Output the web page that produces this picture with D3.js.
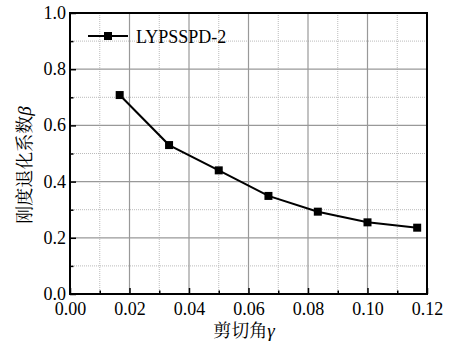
<!DOCTYPE html>
<html>
<head>
<meta charset="utf-8">
<script src="https://cdn.jsdelivr.net/npm/d3@7"></script>
<style>
  html, body { margin: 0; padding: 0; background: #fff; }
  svg { display: block; }
</style>
</head>
<body>
<svg id="chart" width="451" height="347"></svg>
<script>
// Stiffness degradation coefficient vs. shear angle
const seriesName = "LYPSSPD-2";
const shearAngle = [0.0167, 0.0333, 0.05, 0.0667, 0.0833, 0.1, 0.1167];
const beta = [0.708, 0.530, 0.440, 0.349, 0.293, 0.255, 0.236];
const xTicks = [0, 0.02, 0.04, 0.06, 0.08, 0.10, 0.12];
const yTicks = [0, 0.2, 0.4, 0.6, 0.8, 1.0];
const xMinor = [0.01, 0.03, 0.05, 0.07, 0.09, 0.11];
const yMinor = [0.1, 0.3, 0.5, 0.7, 0.9];

const SERIF = "Liberation Serif";
const CJK = "Noto Serif CJK SC";

const svg = d3.select("#chart");
const m = { left: 70, right: 24, top: 13, bottom: 53 };
const W = 451, H = 347;
const x = d3.scaleLinear().domain([0, 0.12]).range([m.left, W - m.right]);
const y = d3.scaleLinear().domain([0, 1.0]).range([H - m.bottom, m.top]);

// minor grid (dotted)
const grid = svg.append("g");
grid.selectAll(".xm").data(xMinor).join("line")
  .attr("x1", d => x(d)).attr("x2", d => x(d))
  .attr("y1", y(0)).attr("y2", y(1))
  .attr("stroke", "#bbb").attr("stroke-width", 1).attr("stroke-dasharray", "1,1");
grid.selectAll(".ym").data(yMinor).join("line")
  .attr("y1", d => y(d)).attr("y2", d => y(d))
  .attr("x1", x(0)).attr("x2", x(0.12))
  .attr("stroke", "#bbb").attr("stroke-width", 1).attr("stroke-dasharray", "1,1");
// major grid (solid)
grid.selectAll(".xM").data(xTicks.slice(1, -1)).join("line")
  .attr("x1", d => x(d)).attr("x2", d => x(d))
  .attr("y1", y(0)).attr("y2", y(1))
  .attr("stroke", "#999").attr("stroke-width", 1.2);
grid.selectAll(".yM").data(yTicks.slice(1, -1)).join("line")
  .attr("y1", d => y(d)).attr("y2", d => y(d))
  .attr("x1", x(0)).attr("x2", x(0.12))
  .attr("stroke", "#999").attr("stroke-width", 1.2);

// axes with inward ticks
const xAxis = svg.append("g").attr("transform", `translate(0,${y(0)})`)
  .call(d3.axisBottom(x).tickValues(xTicks).tickSize(-6).tickPadding(11)
    .tickFormat(d3.format(".2f")));
const xAxisMinor = svg.append("g").attr("transform", `translate(0,${y(0)})`)
  .call(d3.axisBottom(x).tickValues(xMinor).tickSize(-3.5).tickFormat(""));
const yAxis = svg.append("g").attr("transform", `translate(${x(0)},0)`)
  .call(d3.axisLeft(y).tickValues(yTicks).tickSize(-6).tickPadding(4)
    .tickFormat(d3.format(".1f")));
const yAxisMinor = svg.append("g").attr("transform", `translate(${x(0)},0)`)
  .call(d3.axisLeft(y).tickValues(yMinor).tickSize(-3.5).tickFormat(""));

[xAxis, xAxisMinor, yAxis, yAxisMinor].forEach(g => {
  g.attr("font-family", SERIF).attr("font-size", 18);
  g.select(".domain").remove();
  g.selectAll(".tick line").attr("stroke", "#000").attr("stroke-width", 1.5);
  g.selectAll(".tick text").attr("fill", "#000");
});
xAxis.selectAll(".tick text").attr("dy", "0.55em");
yAxis.selectAll(".tick text").attr("dy", "0.3em");

// frame
svg.append("rect")
  .attr("x", x(0)).attr("y", y(1))
  .attr("width", x(0.12) - x(0)).attr("height", y(0) - y(1))
  .attr("fill", "none").attr("stroke", "#000").attr("stroke-width", 2);

// series
const pts = shearAngle.map((d, i) => [d, beta[i]]);
svg.append("path").datum(pts)
  .attr("fill", "none").attr("stroke", "#000").attr("stroke-width", 2)
  .attr("d", d3.line().x(d => x(d[0])).y(d => y(d[1])));
const s = 8;
svg.selectAll(".pt").data(pts).join("rect")
  .attr("x", d => x(d[0]) - s / 2).attr("y", d => y(d[1]) - s / 2)
  .attr("width", s).attr("height", s).attr("fill", "#000");

// legend
const lg = svg.append("g").attr("transform", "translate(88,36)");
lg.append("line").attr("x1", 0).attr("x2", 40).attr("y1", 0).attr("y2", 0)
  .attr("stroke", "#000").attr("stroke-width", 2);
lg.append("rect").attr("x", 20 - s / 2).attr("y", -s / 2).attr("width", s).attr("height", s).attr("fill", "#000");
lg.append("text").attr("x", 48).attr("y", 6.5)
  .attr("font-family", SERIF).attr("font-size", 18).text(seriesName);

// axis titles
const xt = svg.append("text").attr("x", 244).attr("y", 337)
  .attr("text-anchor", "middle").attr("font-size", 18).attr("fill", "#000");
xt.append("tspan").attr("font-family", CJK).text("剪切角");
xt.append("tspan").attr("font-family", SERIF).attr("font-style", "italic").attr("font-size", 19).text("γ");

const yt = svg.append("text").attr("transform", "translate(31,165) rotate(-90)")
  .attr("text-anchor", "middle").attr("font-size", 18).attr("fill", "#000");
yt.append("tspan").attr("font-family", CJK).text("刚度退化系数");
yt.append("tspan").attr("font-family", SERIF).attr("font-style", "italic").attr("font-size", 19).text("β");
</script>
</body>
</html>
